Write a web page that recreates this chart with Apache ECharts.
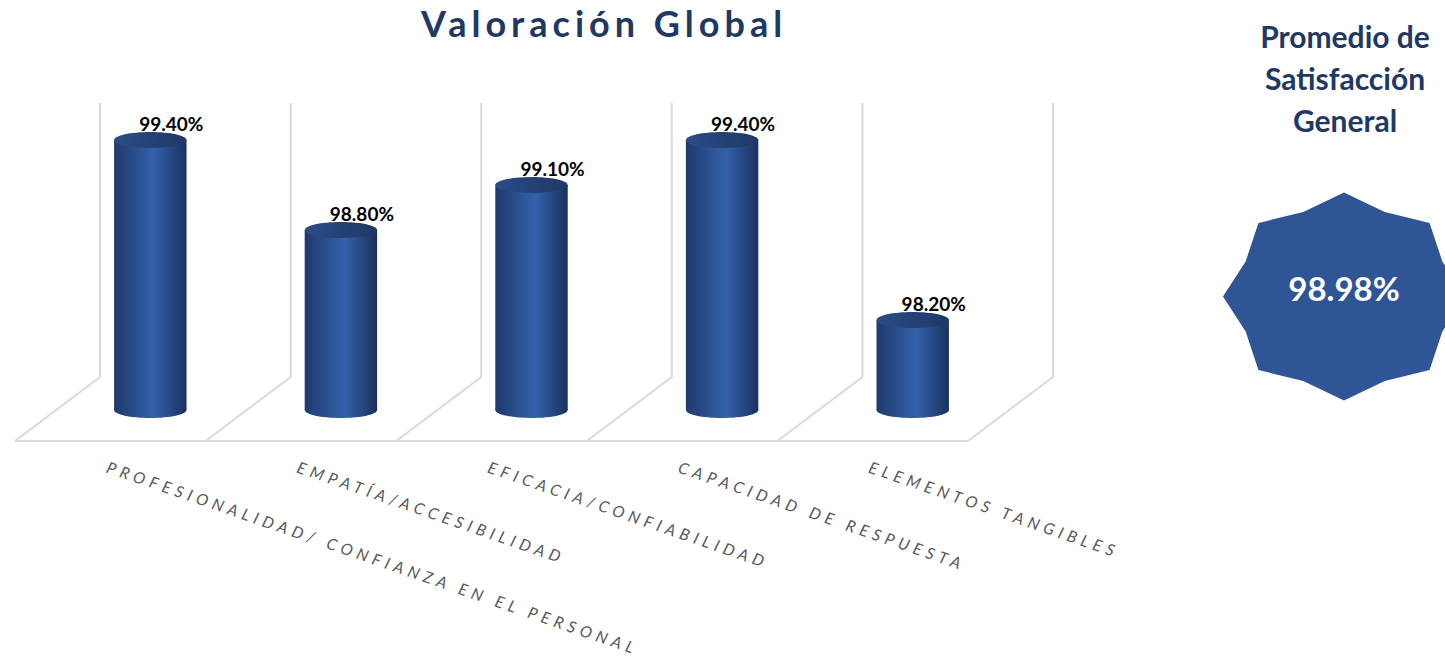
<!DOCTYPE html>
<html>
<head>
<meta charset="utf-8">
<script src="https://cdn.jsdelivr.net/npm/echarts/dist/echarts.min.js"></script>
<style>
  html, body { margin: 0; padding: 0; background: #fff; }
  #chart { width: 1445px; height: 660px; }
  /* espaciado de letras como en el original */
  #chart text[fill="#595959"] { letter-spacing: 5px; }
  #chart text[fill="#1F3864"] { letter-spacing: 5px; }
</style>
</head>
<body>
<div id="chart"></div>
<script>
var categorias = [
  'PROFESIONALIDAD/ CONFIANZA EN EL PERSONAL',
  'EMPATÍA/ACCESIBILIDAD',
  'EFICACIA/CONFIABILIDAD',
  'CAPACIDAD DE RESPUESTA',
  'ELEMENTOS TANGIBLES'
]
var valores = [99.4, 98.8, 99.1, 99.4, 98.2]
var promedio = 98.98
var ejeMin = 97.6
var ejeMax = 99.6

function pct(v) {
  return v.toFixed(2) + '%'
}

var myChart = echarts.init(document.getElementById('chart'), null, { renderer: 'svg' })

// estrella de 8 puntas
var estrella = []
for (var k = 0; k < 16; k++) {
  var a = Math.PI / 2 + k * Math.PI / 8
  var r = k % 2 === 0 ? 1 : 0.88
  estrella.push([1344 + 121 * r * Math.cos(a), 296.5 - 104 * r * Math.sin(a)])
}

myChart.setOption({
  animation: false,
  title: [
    {
      text: 'Valoración Global',
      left: 599,
      top: 3,
      textAlign: 'center',
      textStyle: { fontFamily: 'Lato', fontWeight: 'bold', fontSize: 36, lineHeight: 30, color: '#1F3864' }
    },
    {
      text: 'Promedio de\nSatisfacción\nGeneral',
      left: 1340,
      top: 10,
      textAlign: 'center',
      textStyle: { fontFamily: 'Lato', fontWeight: 'bold', fontSize: 30, lineHeight: 42, color: '#203864' }
    }
  ],
  grid: [
    { left: 55, right: 437, top: 110, bottom: 250 },
    { left: 12, right: 480, top: 110, bottom: 250 }
  ],
  xAxis: [
    {
      type: 'category',
      gridIndex: 0,
      data: categorias,
      axisLine: { show: false },
      axisTick: { show: false },
      axisLabel: { show: false }
    },
    {
      type: 'category',
      gridIndex: 1,
      data: categorias,
      axisLine: { show: false },
      axisTick: { show: false },
      axisLabel: {
        interval: 0,
        rotate: -19,
        margin: 56,
        color: '#595959',
        fontFamily: 'Lato',
        fontStyle: 'italic',
        fontSize: 16
      }
    }
  ],
  yAxis: [
    { type: 'value', gridIndex: 0, min: ejeMin, max: ejeMax, show: false },
    { type: 'value', gridIndex: 1, min: 0, max: 1, show: false }
  ],
  graphic: [
    {
      type: 'polygon',
      shape: { points: estrella },
      style: { fill: '#2F5597' }
    },
    {
      type: 'text',
      x: 1344,
      y: 288,
      style: {
        text: pct(promedio),
        fill: '#ffffff',
        font: 'bold 33px Lato',
        textAlign: 'center',
        textVerticalAlign: 'middle'
      }
    }
  ],
  series: [
    {
      // paredes y piso en perspectiva
      type: 'custom',
      xAxisIndex: 0,
      yAxisIndex: 0,
      silent: true,
      data: valores.map(function (v, i) { return [i, v] }),
      renderItem: function (params, api) {
        var i = api.value(0)
        var band = api.size([1, 0])[0]
        var c = api.coord([i, ejeMin])
        var cTop = api.coord([i, ejeMax])
        var xl = c[0] - band / 2
        var xr = c[0] + band / 2
        var yTop = cTop[1] - 7
        var yBack = c[1] - 33
        var yFront = c[1] + 31
        var ls = { stroke: '#D9D9D9', lineWidth: 2, fill: null }
        var kids = [
          { type: 'polyline', shape: { points: [[xl + 45, yTop], [xl + 45, yBack], [xl - 40, yFront]] }, style: ls },
          { type: 'line', shape: { x1: xl - 40, y1: yFront, x2: xr - 40, y2: yFront }, style: ls }
        ]
        if (i === categorias.length - 1) {
          kids.push({ type: 'polyline', shape: { points: [[xr + 45, yTop], [xr + 45, yBack], [xr - 40, yFront]] }, style: ls })
        }
        return { type: 'group', children: kids }
      }
    },
    {
      // cilindros
      type: 'custom',
      xAxisIndex: 0,
      yAxisIndex: 0,
      data: valores.map(function (v, i) { return [i, v] }),
      renderItem: function (params, api) {
        var top = api.coord([api.value(0), api.value(1)])
        var base = api.coord([api.value(0), ejeMin])
        var w = api.size([1, 0])[0] * 0.38 / 2
        var ry = 8
        var cuerpo = {
          type: 'linear', x: 0, y: 0, x2: 1, y2: 0,
          colorStops: [
            { offset: 0, color: '#1F3A6C' },
            { offset: 0.55, color: '#3361AA' },
            { offset: 1, color: '#1B315F' }
          ]
        }
        var tapa = {
          type: 'linear', x: 0, y: 0, x2: 1, y2: 0,
          colorStops: [
            { offset: 0, color: '#2B4C86' },
            { offset: 1, color: '#1F3866' }
          ]
        }
        return {
          type: 'group',
          children: [
            { type: 'ellipse', shape: { cx: top[0], cy: base[1], rx: w, ry: ry }, style: { fill: cuerpo } },
            { type: 'rect', shape: { x: top[0] - w, y: top[1], width: 2 * w, height: base[1] - top[1] }, style: { fill: cuerpo } },
            { type: 'ellipse', shape: { cx: top[0], cy: top[1], rx: w, ry: ry }, style: { fill: tapa } },
            {
              type: 'text',
              style: {
                x: top[0] + 21,
                y: top[1] - 17,
                text: pct(api.value(1)),
                fill: '#000000',
                font: 'bold 19px Lato',
                textAlign: 'center',
                textVerticalAlign: 'middle'
              }
            }
          ]
        }
      }
    }
  ]
})
</script>
</body>
</html>
